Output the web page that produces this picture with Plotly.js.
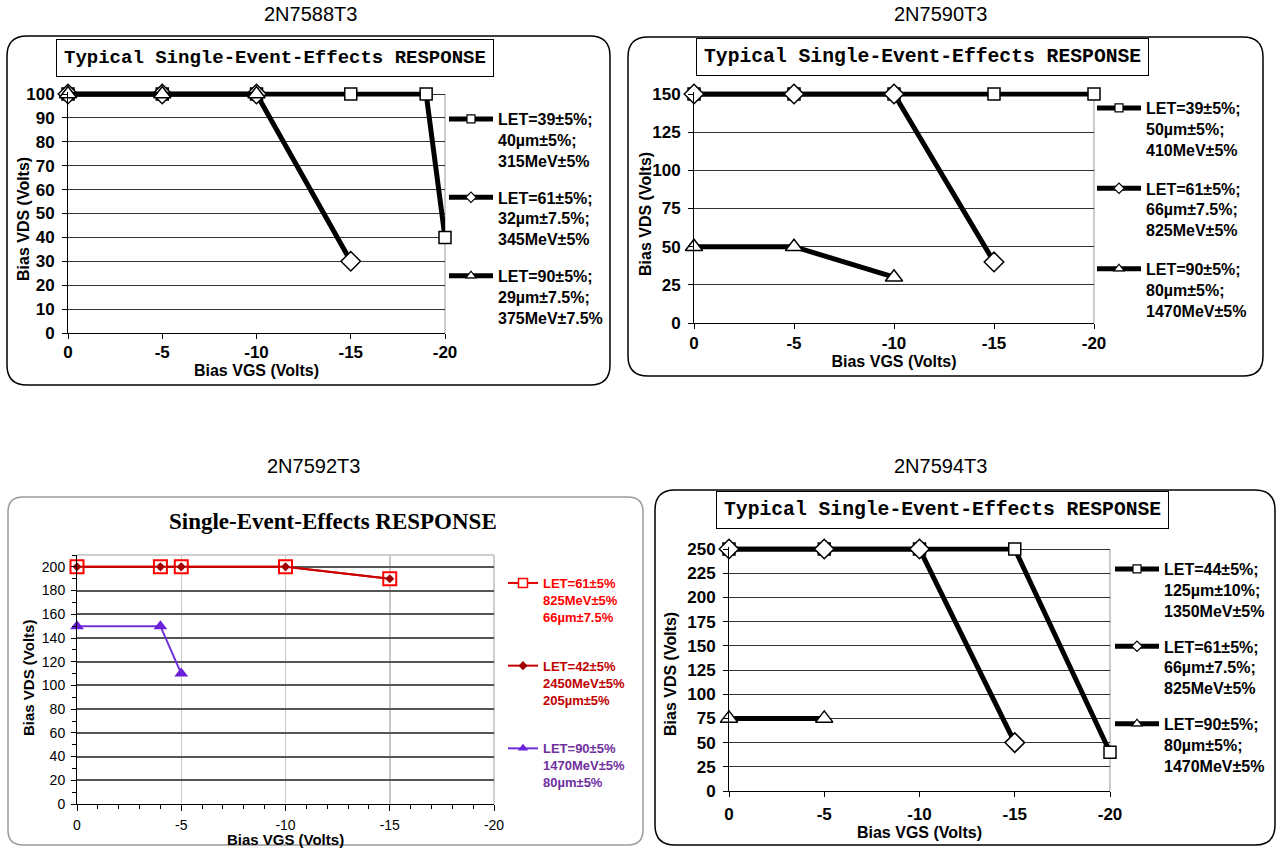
<!DOCTYPE html>
<html>
<head>
<meta charset="utf-8">
<script src="https://cdn.plot.ly/plotly-3.0.1.min.js"></script>
<style>html,body{margin:0;padding:0;background:#fff;}#chart{width:1280px;height:848px;}</style>
</head>
<body>
<div id="chart"></div>
<script>
// ---------- data ----------
const deviceNames = ['2N7588T3', '2N7590T3', '2N7592T3', '2N7594T3'];
const vgsTicks = [0, -5, -10, -15, -20];
const vgsTickText = ['0', '-5', '-10', '-15', '-20'];

// 2N7588T3
const c1SquareX = [0, -5, -10, -15, -19, -20];
const c1SquareY = [100, 100, 100, 100, 100, 40];
const c1DiamondX = [0, -5, -10, -15];
const c1DiamondY = [100, 100, 100, 30];
const c1TriangleX = [0, -5, -10];
const c1TriangleY = [100, 100, 100];
const c1Names = [['LET=39±5%;', '40µm±5%;', '315MeV±5%'],
                 ['LET=61±5%;', '32µm±7.5%;', '345MeV±5%'],
                 ['LET=90±5%;', '29µm±7.5%;', '375MeV±7.5%']];

// 2N7590T3
const c2SquareX = [0, -5, -10, -15, -20];
const c2SquareY = [150, 150, 150, 150, 150];
const c2DiamondX = [0, -5, -10, -15];
const c2DiamondY = [150, 150, 150, 40];
const c2TriangleX = [0, -5, -10];
const c2TriangleY = [50, 50, 30];
const c2Names = [['LET=39±5%;', '50µm±5%;', '410MeV±5%'],
                 ['LET=61±5%;', '66µm±7.5%;', '825MeV±5%'],
                 ['LET=90±5%;', '80µm±5%;', '1470MeV±5%']];

// 2N7592T3
const c3SquareX = [0, -4, -5, -10, -15];
const c3SquareY = [200, 200, 200, 200, 190];
const c3DiamondX = [0, -4, -5, -10, -15];
const c3DiamondY = [200, 200, 200, 200, 190];
const c3TriangleX = [0, -4, -5];
const c3TriangleY = [150, 150, 110];
const c3Names = [['LET=61±5%', '825MeV±5%', '66µm±7.5%'],
                 ['LET=42±5%', '2450MeV±5%', '205µm±5%'],
                 ['LET=90±5%', '1470MeV±5%', '80µm±5%']];

// 2N7594T3
const c4SquareX = [0, -5, -10, -15, -20];
const c4SquareY = [250, 250, 250, 250, 40];
const c4DiamondX = [0, -5, -10, -15];
const c4DiamondY = [250, 250, 250, 50];
const c4TriangleX = [0, -5];
const c4TriangleY = [75, 75];
const c4Names = [['LET=44±5%;', '125µm±10%;', '1350MeV±5%'],
                 ['LET=61±5%;', '66µm±7.5%;', '825MeV±5%'],
                 ['LET=90±5%;', '80µm±5%;', '1470MeV±5%']];

const chartTitleTyp = 'Typical Single-Event-Effects RESPONSE';
const chartTitle3 = 'Single-Event-Effects RESPONSE';
const xTitle = 'Bias VGS (Volts)';
const yTitle = 'Bias VDS (Volts)';

// ---------- helpers ----------
const W = 1280, H = 848;
const px = x => x / W;
const py = y => 1 - y / H;
const SANS = 'Liberation Sans, Arial, sans-serif';
const MONO = 'Liberation Mono, Courier New, monospace';
const SERIF = 'Liberation Serif, Times New Roman, serif';

function roundRect(x0, y0, x1, y1, r, color, w) {
  const P = (x, y) => px(x).toFixed(5) + ',' + py(y).toFixed(5);
  const d = 'M' + P(x0 + r, y0) + ' L' + P(x1 - r, y0) + ' Q' + P(x1, y0) + ' ' + P(x1, y0 + r) +
    ' L' + P(x1, y1 - r) + ' Q' + P(x1, y1) + ' ' + P(x1 - r, y1) +
    ' L' + P(x0 + r, y1) + ' Q' + P(x0, y1) + ' ' + P(x0, y1 - r) +
    ' L' + P(x0, y0 + r) + ' Q' + P(x0, y0) + ' ' + P(x0 + r, y0) + ' Z';
  return {type: 'path', xref: 'paper', yref: 'paper', path: d, layer: 'below',
          line: {color: color, width: w}, fillcolor: 'rgba(0,0,0,0)'};
}

// plotted series (their legend keys are separate key-only traces with smaller markers)
function blackTrace(x, y, symbol, size, xa, ya) {
  return {
    x: x, y: y, type: 'scatter', mode: 'lines+markers', showlegend: false,
    xaxis: xa, yaxis: ya, cliponaxis: false,
    line: {color: '#000', width: 5},
    marker: {symbol: symbol, size: size, color: '#fff', line: {color: '#000', width: 1.5}}
  };
}
// legend key entries: a single missing point, so only the key is drawn
function blackKey(lines, symbol, size, xa, ya, leg, grp) {
  return {
    x: [null], y: [null], type: 'scatter', mode: 'lines+markers', name: lines.join('<br>'),
    xaxis: xa, yaxis: ya, legend: leg, legendgroup: grp, hoverinfo: 'skip',
    line: {color: '#000', width: 5},
    marker: {symbol: symbol, size: size, color: '#fff', line: {color: '#000', width: 1.2}}
  };
}
function colorName(lines, color) {
  return lines.map(t => '<span style="color:' + color + '">' + t + '</span>').join('<br>');
}

const c3Style = [
  {line: {color: '#e00000', width: 2}, marker: {symbol: 'square', size: 13, color: '#fff', line: {color: '#ff0000', width: 2}},
   key: {symbol: 'square', size: 9, color: '#fff', line: {color: '#ff0000', width: 1.5}}, text: '#ff0000'},
  {line: {color: '#c80000', width: 2}, marker: {symbol: 'diamond', size: 7, color: '#a00000'},
   key: {symbol: 'diamond', size: 7, color: '#a00000'}, text: '#c00000'},
  {line: {color: '#7030d8', width: 2}, marker: {symbol: 'triangle-up', size: 12, color: '#6a1fd8'},
   key: {symbol: 'triangle-up', size: 9, color: '#6a1fd8'}, text: '#7030a0'}
];
const c3X = [c3SquareX, c3DiamondX, c3TriangleX];
const c3Y = [c3SquareY, c3DiamondY, c3TriangleY];

const traces = [
  blackTrace(c1SquareX, c1SquareY, 'square', 12, 'x', 'y'),
  blackTrace(c1DiamondX, c1DiamondY, 'diamond', 15, 'x', 'y'),
  blackTrace(c1TriangleX, c1TriangleY, 'triangle-up', 15, 'x', 'y'),
  blackKey(c1Names[0], 'square', 8, 'x', 'y', 'legend', 'a1'),
  blackKey(c1Names[1], 'diamond', 8, 'x', 'y', 'legend', 'b1'),
  blackKey(c1Names[2], 'triangle-up', 9, 'x', 'y', 'legend', 'c1'),

  blackTrace(c2SquareX, c2SquareY, 'square', 12, 'x2', 'y2'),
  blackTrace(c2DiamondX, c2DiamondY, 'diamond', 15, 'x2', 'y2'),
  blackTrace(c2TriangleX, c2TriangleY, 'triangle-up', 15, 'x2', 'y2'),
  blackKey(c2Names[0], 'square', 8, 'x2', 'y2', 'legend2', 'a2'),
  blackKey(c2Names[1], 'diamond', 8, 'x2', 'y2', 'legend2', 'b2'),
  blackKey(c2Names[2], 'triangle-up', 9, 'x2', 'y2', 'legend2', 'c2'),

  blackTrace(c4SquareX, c4SquareY, 'square', 12, 'x4', 'y4'),
  blackTrace(c4DiamondX, c4DiamondY, 'diamond', 15, 'x4', 'y4'),
  blackTrace(c4TriangleX, c4TriangleY, 'triangle-up', 15, 'x4', 'y4'),
  blackKey(c4Names[0], 'square', 8, 'x4', 'y4', 'legend4', 'a4'),
  blackKey(c4Names[1], 'diamond', 8, 'x4', 'y4', 'legend4', 'b4'),
  blackKey(c4Names[2], 'triangle-up', 9, 'x4', 'y4', 'legend4', 'c4')
];
c3Style.forEach((s, i) => {
  traces.push({x: c3X[i], y: c3Y[i], type: 'scatter', mode: 'lines+markers', showlegend: false,
    xaxis: 'x3', yaxis: 'y3', cliponaxis: false, line: s.line, marker: s.marker});
});
c3Style.forEach((s, i) => {
  traces.push({x: [null], y: [null], type: 'scatter', mode: 'lines+markers', name: colorName(c3Names[i], s.text),
    xaxis: 'x3', yaxis: 'y3', legend: 'legend3', legendgroup: 'g3' + i, hoverinfo: 'skip', line: s.line, marker: s.key});
});

const boldTick = {family: SANS, size: 17, color: '#000', weight: 'bold'};
const boldTitle = {family: SANS, size: 16, color: '#000', weight: 'bold'};

function xAxisBlack(dom, anchor, lblStandoff, standoff) {
  return {domain: dom, anchor: anchor, range: [0, -20], tickmode: 'array', tickvals: vgsTicks, ticktext: vgsTickText,
    showgrid: false, zeroline: false, showline: true, linecolor: '#000', linewidth: 1,
    ticks: 'outside', ticklen: 5, tickcolor: '#000', ticklabelstandoff: lblStandoff, tickfont: boldTick,
    automargin: false, fixedrange: true,
    title: {text: xTitle, font: boldTitle, standoff: standoff}};
}
// top of range padded by half a line width so the thick top series line is not clipped
function yAxisBlack(dom, anchor, max, step) {
  return {domain: dom, anchor: anchor, range: [0, max], dtick: step, tick0: 0,
    showgrid: true, gridcolor: '#333', gridwidth: 1, zeroline: false, showline: true, linecolor: '#000', linewidth: 1,
    ticks: 'outside', ticklen: 5, tickcolor: '#000', ticklabelstandoff: 4, tickfont: boldTick,
    automargin: false, fixedrange: true};
}

function legendAt(xPix, yPix, fontSize, gap, color, itemw) {
  return {x: px(xPix), y: py(yPix), xanchor: 'left', yanchor: 'top', xref: 'paper', yref: 'paper',
    bgcolor: 'rgba(0,0,0,0)', borderwidth: 0, traceorder: 'grouped', tracegroupgap: gap, valign: 'top',
    itemwidth: itemw, font: {family: SANS, size: fontSize, color: color, weight: 'bold'}};
}

function ann(text, x, y, font, extra) {
  return Object.assign({text: text, xref: 'paper', yref: 'paper', x: px(x), y: py(y),
    xanchor: 'center', yanchor: 'middle', showarrow: false, font: font}, extra || {});
}

const titleFont = {family: SANS, size: 20, color: '#000'};
const boxTitle = (sz) => ({family: MONO, size: sz, color: '#000', weight: 'bold'});
const boxStyle = {bordercolor: '#000', borderwidth: 1, borderpad: 7, bgcolor: '#fff'};

const layout = {
  width: W, height: H, margin: {l: 0, r: 0, t: 0, b: 0},
  paper_bgcolor: '#fff', plot_bgcolor: 'rgba(0,0,0,0)', showlegend: true,
  xaxis: xAxisBlack([px(68), px(445)], 'y', -1, 0),
  yaxis: yAxisBlack([py(333), py(91.5)], 'x', 101.05, 10),
  xaxis2: xAxisBlack([px(694), px(1094)], 'y2', 0, 3),
  yaxis2: yAxisBlack([py(323), py(91.5)], 'x2', 151.64, 25),
  xaxis4: xAxisBlack([px(729), px(1110)], 'y4', 3, 1),
  yaxis4: yAxisBlack([py(791), py(546.5)], 'x4', 252.6, 25),
  xaxis3: {domain: [px(77), px(494)], anchor: 'y3', range: [0, -20], tickmode: 'array', tickvals: vgsTicks, ticktext: vgsTickText,
    showgrid: true, gridcolor: '#c8c8c8', gridwidth: 1.5, zeroline: false, showline: true, linecolor: '#000', linewidth: 1,
    ticks: 'outside', ticklen: 6, tickcolor: '#000', ticklabelstandoff: 2,
    minor: {dtick: 1, ticks: 'outside', ticklen: 4, tickcolor: '#000', showgrid: false},
    tickfont: {family: SANS, size: 14, color: '#000'}, automargin: false, fixedrange: true,
    title: {text: xTitle, font: {family: SANS, size: 15, color: '#000', weight: 'bold'}, standoff: 4}},
  yaxis3: {domain: [py(804), py(555)], anchor: 'x3', range: [0, 210], dtick: 20, tick0: 0,
    showgrid: true, gridcolor: '#555', gridwidth: 2, zeroline: false, showline: true, linecolor: '#000', linewidth: 1,
    ticks: 'outside', ticklen: 5, tickcolor: '#000', ticklabelstandoff: 3,
    minor: {dtick: 10, ticks: 'outside', ticklen: 4, tickcolor: '#000', showgrid: false},
    tickfont: {family: SANS, size: 14, color: '#000'}, automargin: false, fixedrange: true},
  legend: legendAt(444, 102, 16, 13, '#000', 44),
  legend2: legendAt(1092, 91, 16, 15, '#000', 44),
  legend3: legendAt(503, 568, 13, 29, '#000', 30),
  legend4: legendAt(1110, 552, 16, 12, '#000', 44),
  shapes: [
    roundRect(7, 36, 610, 385, 20, '#000', 1.5),
    roundRect(628, 37, 1263, 376, 20, '#000', 1.5),
    roundRect(8, 497, 643, 845, 15, '#9a9a9a', 1.5),
    roundRect(655, 490, 1275, 845, 20, '#000', 1.5),
    {type: 'line', xref: 'x domain', yref: 'y', x0: 1, x1: 1, y0: 0, y1: 100, line: {color: '#999', width: 1}, layer: 'below'},
    {type: 'line', xref: 'x2 domain', yref: 'y2', x0: 1, x1: 1, y0: 0, y1: 150, line: {color: '#999', width: 1}, layer: 'below'},
    {type: 'line', xref: 'x4 domain', yref: 'y4', x0: 1, x1: 1, y0: 0, y1: 250, line: {color: '#999', width: 1}, layer: 'below'},
    {type: 'line', xref: 'x3 domain', yref: 'y3 domain', x0: 1, x1: 1, y0: 0, y1: 1, line: {color: '#c0c0c0', width: 1.5}, layer: 'below'},
    {type: 'line', xref: 'x3 domain', yref: 'y3 domain', x0: 0, x1: 1, y0: 1, y1: 1, line: {color: '#c0c0c0', width: 1.5}, layer: 'below'}
  ],
  annotations: [
    ann(deviceNames[0], 310, 14, titleFont),
    ann(deviceNames[1], 940, 14, titleFont),
    ann(deviceNames[2], 313, 466, titleFont),
    ann(deviceNames[3], 940, 466, titleFont),
    ann(chartTitleTyp, 274.5, 57.5, boxTitle(19), boxStyle),
    ann(chartTitleTyp, 922, 57, boxTitle(19.7), boxStyle),
    ann(chartTitleTyp, 942.5, 510, boxTitle(19.7), boxStyle),
    ann(chartTitle3, 333, 521, {family: SERIF, size: 23, color: '#000', weight: 'bold'}),
    ann(yTitle, 24, 219, boldTitle, {textangle: -90}),
    ann(yTitle, 645, 214, boldTitle, {textangle: -90}),
    ann(yTitle, 670, 674, boldTitle, {textangle: -90}),
    ann(yTitle, 28, 678, {family: SANS, size: 15, color: '#000', weight: 'bold'}, {textangle: -90})
  ]
};

Plotly.newPlot('chart', traces, layout, {displayModeBar: false, staticPlot: true});
</script>
</body>
</html>
